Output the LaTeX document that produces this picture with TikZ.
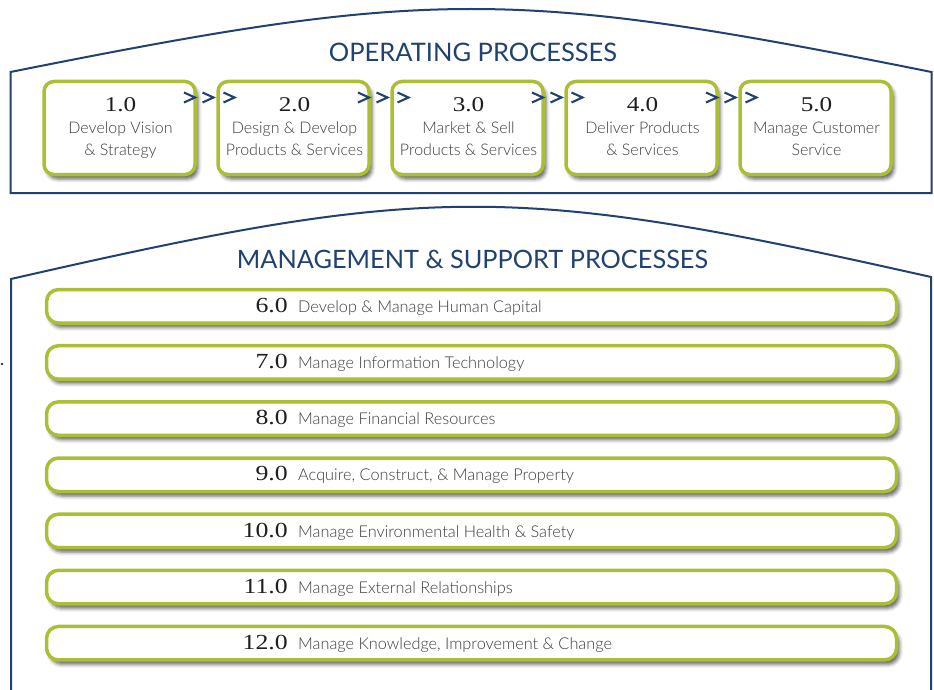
\documentclass[tikz,border=0pt]{standalone}
\usepackage{fontspec}
\setmainfont{Lato}
\IfFontExistsTF{Lato Light}{\newfontfamily\lightfont{Lato Light}}{\newfontfamily\lightfont{Lato}}
\newfontfamily\numfont[FakeStretch=1.2]{Liberation Serif}
\usetikzlibrary{shadows.blur}
\definecolor{navy}{RGB}{31,66,112}
\definecolor{lime}{RGB}{172,190,52}
\definecolor{txtgray}{RGB}{60,60,60}
\definecolor{numgray}{RGB}{30,30,30}
\begin{document}
\begin{tikzpicture}[x=1pt,y=-1pt,
  frame/.style={draw=navy,line width=2pt,line join=miter},
  boxshadow/.style={blur shadow={shadow xshift=3pt,shadow yshift=-4.5pt,shadow blur radius=3.5pt,shadow opacity=60}},
  opbox/.style={draw=lime,line width=3.5pt,fill=white,rounded corners=10pt,
    minimum width=151pt,minimum height=93pt,inner sep=0pt,boxshadow},
  barbox/.style={draw=lime,line width=3.5pt,fill=white,rounded corners=12pt,
    minimum width=850pt,minimum height=33.5pt,inner sep=0pt,boxshadow},
  title/.style={text=navy,font=\fontsize{25.5}{30}\selectfont,inner sep=0pt,anchor=base},
  opnum/.style={text=numgray,font=\numfont\fontsize{21}{26}\selectfont,inner sep=0pt,anchor=base},
  optext/.style={text=txtgray,font=\lightfont\fontsize{16}{19}\selectfont,inner sep=0pt,anchor=base},
  barnum/.style={text=numgray,font=\numfont\fontsize{21.5}{26}\selectfont,inner sep=0pt,anchor=base east},
  bartext/.style={text=txtgray,font=\lightfont\fontsize{16.3}{19}\selectfont,inner sep=0pt,anchor=base west},
  chev/.style={draw=navy,line width=2.1pt,line join=miter,line cap=butt}
]
\useasboundingbox (0,0) rectangle (934,690);

% frames
\draw[frame] (10.5,193) -- (10.5,72) .. controls (430,-12) and (513,-12) .. (931.5,72) -- (931.5,193) -- cycle;
\draw[frame] (11,692) -- (11,279) .. controls (430,183) and (513,183) .. (931,277) -- (931,692);
\fill[black!80] (2,364) circle (1.3);

% titles
\node[title] (t1) at (473,61.5) {OPERATING PROCESSES};
\node[title,font=\fontsize{25.3}{30}\selectfont] (t2) at (472.5,268.5) {MANAGEMENT \& SUPPORT PROCESSES};

% operating boxes
\foreach \i/\n/\a/\b [count=\k from 0] in {
  b1/1.0/Develop Vision/\& Strategy,
  b2/2.0/Design \& Develop/Products \& Services,
  b3/3.0/Market \& Sell/Products \& Services,
  b4/4.0/Deliver Products/\& Services,
  b5/5.0/Manage Customer/Service}{
  \pgfmathsetmacro\cx{119.5+174*\k}
  \node[opbox] (\i) at (\cx,128) {};
  \node[opnum] (\i n) at (\cx+1,112) {\n};
  \node[optext] (\i a) at (\cx+1,134) {\a};
  \node[optext] (\i b) at (\cx+1,155.5) {\b};
}

% chevrons between boxes
\foreach \k in {0,...,3}{
  \foreach \d in {70,88.5,109.5}{
    \pgfmathsetmacro\x{119.5+174*\k+\d}
    \draw[chev] (\x-5.5,92.5) -- (\x+5.5,97.5) -- (\x-5.5,102.5);
  }
}

% management bars
\foreach \i/\n/\t [count=\k from 0] in {
  p6/6.0/Develop \& Manage Human Capital,
  p7/7.0/Manage Information Technology,
  p8/8.0/Manage Financial Resources,
  p9/9.0/{Acquire, Construct, \& Manage Property},
  p10/10.0/Manage Environmental Health \& Safety,
  p11/11.0/Manage External Relationships,
  p12/12.0/{Manage Knowledge, Improvement \& Change}}{
  \pgfmathsetmacro\cy{306.3+56.15*\k}
  \node[barbox] (\i) at (471.5,\cy) {};
  \node[barnum] (\i n) at (288,\cy+6.2) {\n};
  \node[bartext] (\i t) at (298,\cy+6.2) {\t};
}
\end{tikzpicture}
\end{document}
